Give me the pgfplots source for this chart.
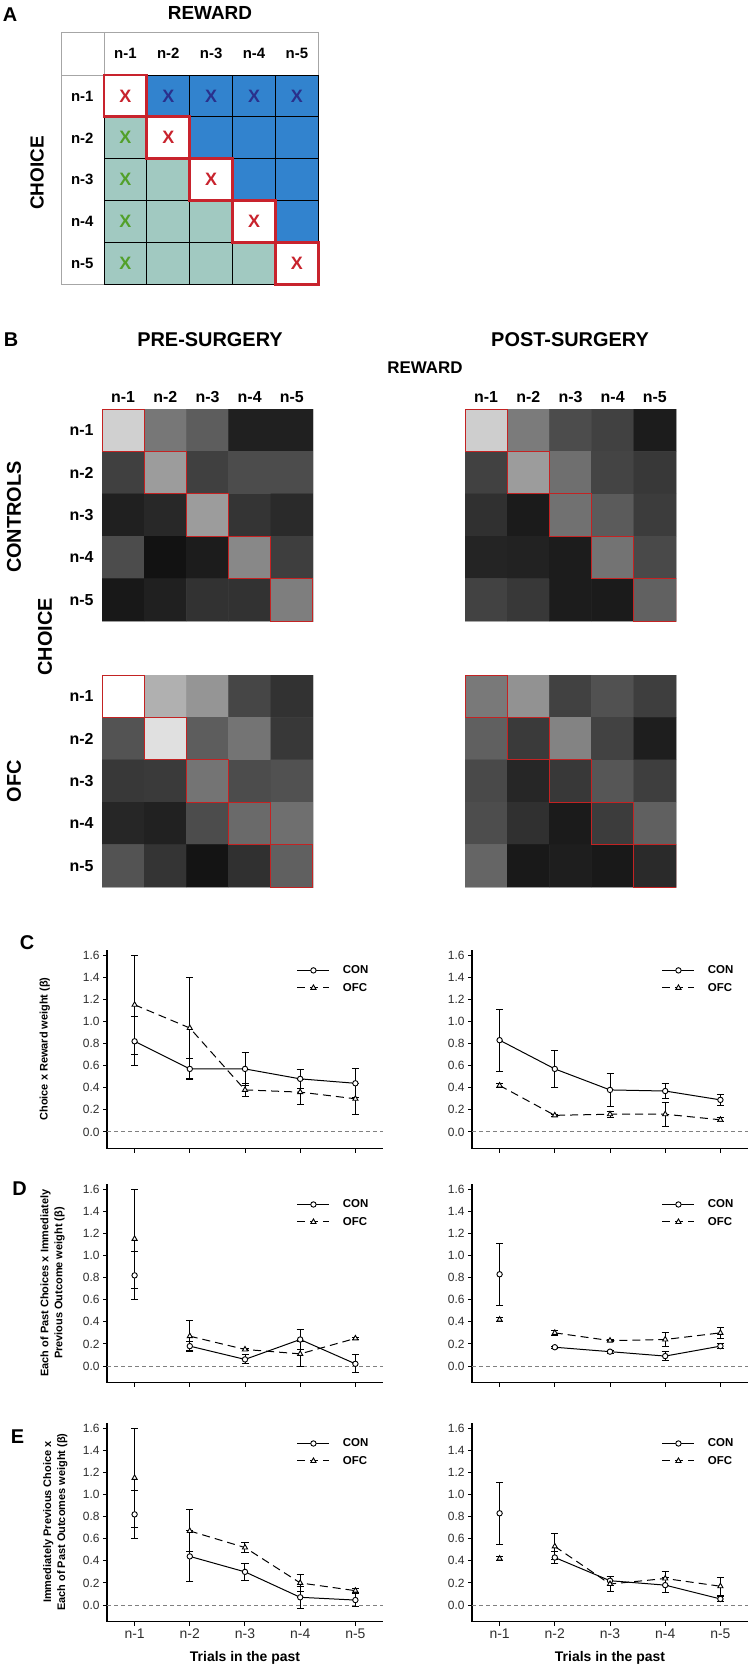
\documentclass[border=0pt]{standalone}
\usepackage{fontspec}
\setmainfont{Liberation Sans}
\usepackage{pgfplots}
\usepackage{pgfplotstable}
\pgfplotsset{compat=1.18}

\definecolor{tealc}{RGB}{161,201,193}
\definecolor{bluec}{RGB}{50,131,206}
\definecolor{xred}{RGB}{200,35,45}
\definecolor{xblue}{RGB}{42,48,140}
\definecolor{xgreen}{RGB}{82,160,42}
\definecolor{bred}{RGB}{195,35,35}
\definecolor{tickgray}{RGB}{45,45,45}

\newcommand\bfs[1]{\bfseries\fontsize{#1}{#1}\selectfont}

% ---------- heat-map data (grey level 0-255) ----------
\pgfplotstableread{
x y c
1 1 207
2 1 118
3 1 92
4 1 32
5 1 32
1 2 64
2 2 155
3 2 64
4 2 75
5 2 75
1 3 32
2 3 40
3 3 155
4 3 52
5 3 42
1 4 75
2 4 18
3 4 28
4 4 135
5 4 62
1 5 24
2 5 32
3 5 50
4 5 50
5 5 125
}\hmPreCon
\pgfplotstableread{
x y c
1 1 205
2 1 122
3 1 75
4 1 65
5 1 28
1 2 65
2 2 155
3 2 110
4 2 68
5 2 56
1 3 48
2 3 27
3 3 112
4 3 90
5 3 60
1 4 36
2 4 34
3 4 28
4 4 114
5 4 72
1 5 66
2 5 56
3 5 28
4 5 27
5 5 96
}\hmPostCon
\pgfplotstableread{
x y c
1 1 255
2 1 175
3 1 148
4 1 70
5 1 50
1 2 82
2 2 222
3 2 92
4 2 115
5 2 56
1 3 56
2 3 58
3 3 115
4 3 75
5 3 80
1 4 38
2 4 33
3 4 75
4 4 105
5 4 110
1 5 82
2 5 52
3 5 20
4 5 48
5 5 95
}\hmPreOfc
\pgfplotstableread{
x y c
1 1 120
2 1 145
3 1 65
4 1 80
5 1 62
1 2 95
2 2 58
3 2 130
4 2 66
5 2 30
1 3 72
2 3 38
3 3 56
4 3 85
5 3 62
1 4 76
2 4 48
3 4 27
4 4 60
5 4 95
1 5 100
2 5 25
3 5 30
4 5 25
5 5 42
}\hmPostOfc
\pgfplotstableread{
x y c
1 1 0
2 1 2
3 1 2
4 1 2
5 1 2
1 2 1
2 2 0
3 2 2
4 2 2
5 2 2
1 3 1
2 3 1
3 3 0
4 3 2
5 3 2
1 4 1
2 4 1
3 4 1
4 4 0
5 4 2
1 5 1
2 5 1
3 5 1
4 5 1
5 5 0
}\schemeA

% ---------- line-plot data: x mean error ----------
\pgfplotstableread{
x y e
1 0.82 0.22
2 0.57 0.095
3 0.57 0.15
4 0.48 0.085
5 0.44 0.13
}\CpreCon
\pgfplotstableread{
x y e
1 1.15 0.45
2 0.94 0.46
3 0.38 0.06
4 0.36 0.11
5 0.30 0.14
}\CpreOfc
\pgfplotstableread{
x y e
1 0.83 0.28
2 0.57 0.17
3 0.38 0.15
4 0.37 0.07
5 0.29 0.05
}\CpostCon
\pgfplotstableread{
x y e
1 0.42 0.02
2 0.15 0.01
3 0.16 0.025
4 0.16 0.11
5 0.11 0.02
}\CpostOfc
\pgfplotstableread{
x y e
1 0.82 0.22
2 0.18 0.04
3 0.06 0.04
4 0.24 0.09
5 0.02 0.08
}\DpreCon
\pgfplotstableread{
x y e
1 1.15 0.45
2 0.27 0.14
3 0.15 0.01
4 0.11 0.11
5 0.25 0.01
}\DpreOfc
\pgfplotstableread{
x y e
1 0.83 0.28
2 0.17 0.01
3 0.13 0.015
4 0.09 0.04
5 0.18 0.02
}\DpostCon
\pgfplotstableread{
x y e
1 0.42 0.02
2 0.30 0.02
3 0.23 0.01
4 0.24 0.065
5 0.30 0.05
}\DpostOfc
\pgfplotstableread{
x y e
1 0.82 0.22
2 0.44 0.23
3 0.30 0.08
4 0.07 0.10
5 0.045 0.06
}\EpreCon
\pgfplotstableread{
x y e
1 1.15 0.45
2 0.67 0.19
3 0.52 0.045
4 0.20 0.08
5 0.13 0.02
}\EpreOfc
\pgfplotstableread{
x y e
1 0.83 0.28
2 0.43 0.05
3 0.22 0.04
4 0.18 0.07
5 0.055 0.02
}\EpostCon
\pgfplotstableread{
x y e
1 0.42 0.02
2 0.53 0.12
3 0.19 0.07
4 0.24 0.06
5 0.17 0.08
}\EpostOfc

\pgfplotsset{
  lineplot/.style={
    scale only axis, width=276bp, height=199bp,
    xmin=0.5, xmax=5.5, ymin=-0.15, ymax=1.65,
    axis lines*=left,
    axis line style={black, line width=1.1bp},
    tick align=outside, major tick length=4bp,
    tick style={black, line width=1bp},
    xtick={1,2,3,4,5}, xticklabels={},
    ytick={0,0.2,0.4,0.6,0.8,1.0,1.2,1.4,1.6},
    /pgf/number format/assume math mode=true,
    yticklabel style={/pgf/number format/fixed, /pgf/number format/fixed zerofill, /pgf/number format/precision=1, font=\fontsize{12}{14}\selectfont, text=tickgray},
    xticklabel style={font=\fontsize{14}{16}\selectfont, text=tickgray},
    legend style={draw=none, fill=none, at={(0.955,0.93)}, anchor=north east, font=\bfs{11.5}, row sep=4bp, inner sep=0pt, /tikz/every odd column/.append style={column sep=11bp}},
    legend cell align=left,
    legend image code/.code={\draw[mark repeat=2,mark phase=2,##1] plot coordinates {(0bp,0bp) (16bp,0bp) (32bp,0bp)};},
    ylabel style={font=\bfseries\fontsize{11}{14}\selectfont, align=center, anchor=center},
    xlabel style={font=\bfs{14}, at={(axis description cs:0.5,0)}, anchor=center, yshift=-36bp},
  },
  con/.style={black, solid, line width=1bp, mark=*, mark size=2.7bp,
    mark options={solid, fill=white, draw=black, line width=0.9bp},
    error bars/y dir=both, error bars/y explicit,
    error bars/error bar style={solid, black, line width=1bp},
    error bars/error mark options={rotate=90, mark size=3.5bp, solid, black, line width=1bp}},
  ofc/.style={black, dash pattern=on 8bp off 5bp, line width=1bp, mark=triangle*, mark size=3bp,
    mark options={solid, fill=white, draw=black, line width=0.9bp},
    error bars/y dir=both, error bars/y explicit,
    error bars/error bar style={solid, black, line width=1bp},
    error bars/error mark options={rotate=90, mark size=3.5bp, solid, black, line width=1bp}},
  zeroline/.style={forget plot, color=gray, dash pattern=on 4bp off 3bp, line width=1bp},
  heat/.style={
    scale only axis, width=211bp, height=212bp,
    xmin=0.5, xmax=5.5, ymin=0.5, ymax=5.5, y dir=reverse,
    colormap/blackwhite, point meta min=0, point meta max=255,
    axis line style={gray!45, line width=0.5bp},
    xtick={1,2,3,4,5}, ytick={1,2,3,4,5}, major tick length=0pt,
    xticklabels={}, yticklabels={},
    ticklabel style={font=\bfs{16}},
  },
}

\newcommand\diagboxes[2]{%
  \foreach \a/\b in {0.5/1.5,1.5/2.5,2.5/3.5,3.5/4.5,4.5/5.5}{%
    \edef\tmp{\noexpand\draw[#1, line width=#2] (axis cs:\a,\a) rectangle (axis cs:\b,\b);}\tmp}}

\begin{document}
\begin{tikzpicture}
\useasboundingbox (0,0) rectangle (750bp,-1666bp);

% ================= Panel A =================
\node[font=\bfs{20}] at (10bp,-15bp) {A};
\node[font=\bfs{19}] at (210bp,-13bp) {REWARD};
\node[font=\bfs{19}, rotate=90] at (37bp,-173bp) {CHOICE};
\draw[gray!70, line width=0.8bp] (61bp,-32bp) rectangle (318.3bp,-284.3bp);
\draw[gray!70, line width=0.8bp] (104bp,-32bp) -- (104bp,-284.3bp);
\draw[gray!70, line width=0.8bp] (61bp,-75bp) -- (318.3bp,-75bp);
\begin{axis}[scale only axis, width=214.3bp, height=209.3bp,
  at={(104bp,-284.3bp)}, anchor=south west,
  xmin=0.5, xmax=5.5, ymin=0.5, ymax=5.5, y dir=reverse,
  colormap={panelA}{rgb255=(255,255,255) rgb255=(161,201,193) rgb255=(50,131,206)},
  point meta min=0, point meta max=2,
  axis line style={draw=none}, major tick length=0pt,
  xtick={1,2,3,4,5}, ytick={1,2,3,4,5},
  xticklabels={n-1,n-2,n-3,n-4,n-5}, yticklabels={n-1,n-2,n-3,n-4,n-5},
  xticklabel pos=right,
  xticklabel style={anchor=center, yshift=21.5bp, font=\bfs{15}},
  yticklabel style={anchor=center, xshift=-21.7bp, font=\bfs{15}},
  clip=false]
\addplot[matrix plot*, mesh/cols=5, point meta=explicit] table[x=x, y=y, meta=c] {\schemeA};
\foreach \a in {0.5,1.5,2.5,3.5,4.5,5.5}{%
  \edef\tmp{\noexpand\draw[black, line width=0.8bp] (axis cs:\a,0.5) -- (axis cs:\a,5.5);
            \noexpand\draw[black, line width=0.8bp] (axis cs:0.5,\a) -- (axis cs:5.5,\a);}\tmp}
\diagboxes{xred}{2.8bp}
\node[text=xred, font=\bfs{18}] at (axis cs:1,1) {X};
\node[text=xred, font=\bfs{18}] at (axis cs:2,2) {X};
\node[text=xred, font=\bfs{18}] at (axis cs:3,3) {X};
\node[text=xred, font=\bfs{18}] at (axis cs:4,4) {X};
\node[text=xred, font=\bfs{18}] at (axis cs:5,5) {X};
\node[text=xblue, font=\bfs{18}] at (axis cs:2,1) {X};
\node[text=xblue, font=\bfs{18}] at (axis cs:3,1) {X};
\node[text=xblue, font=\bfs{18}] at (axis cs:4,1) {X};
\node[text=xblue, font=\bfs{18}] at (axis cs:5,1) {X};
\node[text=xgreen, font=\bfs{18}] at (axis cs:1,2) {X};
\node[text=xgreen, font=\bfs{18}] at (axis cs:1,3) {X};
\node[text=xgreen, font=\bfs{18}] at (axis cs:1,4) {X};
\node[text=xgreen, font=\bfs{18}] at (axis cs:1,5) {X};
\end{axis}

% ================= Panel B =================
\node[font=\bfs{20}] at (11bp,-340bp) {B};
\node[font=\bfs{20}] at (210bp,-340bp) {PRE-SURGERY};
\node[font=\bfs{20}] at (570bp,-340bp) {POST-SURGERY};
\node[font=\bfs{17}] at (425bp,-368bp) {REWARD};
\node[font=\bfs{20}, rotate=90] at (14bp,-517bp) {CONTROLS};
\node[font=\bfs{20}, rotate=90] at (14bp,-781bp) {OFC};
\node[font=\bfs{20}, rotate=90] at (45bp,-637bp) {CHOICE};

\begin{axis}[heat, at={(102bp,-621bp)}, anchor=south west,
  xticklabel pos=right, xticklabels={n-1,n-2,n-3,n-4,n-5}, xticklabel style={yshift=3bp},
  yticklabels={n-1,n-2,n-3,n-4,n-5}, yticklabel style={xshift=-5bp}]
\addplot[matrix plot*, mesh/cols=5, point meta=explicit] table[x=x, y=y, meta=c] {\hmPreCon};
\diagboxes{bred}{1bp}
\end{axis}
\begin{axis}[heat, at={(465bp,-621bp)}, anchor=south west,
  xticklabel pos=right, xticklabels={n-1,n-2,n-3,n-4,n-5}, xticklabel style={yshift=3bp}]
\addplot[matrix plot*, mesh/cols=5, point meta=explicit] table[x=x, y=y, meta=c] {\hmPostCon};
\diagboxes{bred}{1bp}
\end{axis}
\begin{axis}[heat, at={(102bp,-887bp)}, anchor=south west,
  yticklabels={n-1,n-2,n-3,n-4,n-5}, yticklabel style={xshift=-5bp}]
\addplot[matrix plot*, mesh/cols=5, point meta=explicit] table[x=x, y=y, meta=c] {\hmPreOfc};
\diagboxes{bred}{1bp}
\end{axis}
\begin{axis}[heat, at={(465bp,-887bp)}, anchor=south west]
\addplot[matrix plot*, mesh/cols=5, point meta=explicit] table[x=x, y=y, meta=c] {\hmPostOfc};
\diagboxes{bred}{1bp}
\end{axis}

% ================= Panel C =================
\node[font=\bfs{20}] at (27bp,-943bp) {C};
\begin{axis}[lineplot, at={(107bp,-1148.5bp)}, anchor=south west,
  ylabel={Choice x Reward weight (β)},
  ylabel style={at={(axis description cs:-0.225,0.5)}}]
\addplot[zeroline] coordinates {(0.5,0) (5.5,0)};
\addplot[con] table[x=x, y=y, y error=e] {\CpreCon};
\addplot[ofc] table[x=x, y=y, y error=e] {\CpreOfc};
\legend{CON,OFC}
\end{axis}
\begin{axis}[lineplot, at={(472bp,-1148.5bp)}, anchor=south west]
\addplot[zeroline] coordinates {(0.5,0) (5.5,0)};
\addplot[con] table[x=x, y=y, y error=e] {\CpostCon};
\addplot[ofc] table[x=x, y=y, y error=e] {\CpostOfc};
\legend{CON,OFC}
\end{axis}

% ================= Panel D =================
\node[font=\bfs{20}] at (19.5bp,-1189bp) {D};
\begin{axis}[lineplot, at={(107bp,-1382.6bp)}, anchor=south west,
  ylabel={Each of Past Choices x Immediately\\Previous Outcome weight (β)},
  ylabel style={at={(axis description cs:-0.197,0.5)}}]
\addplot[zeroline] coordinates {(0.5,0) (5.5,0)};
\addplot[con, restrict x to domain=1.5:5.5] table[x=x, y=y, y error=e] {\DpreCon};
\addplot[ofc, restrict x to domain=1.5:5.5] table[x=x, y=y, y error=e] {\DpreOfc};
\addplot[con, only marks, forget plot, restrict x to domain=0.5:1.5] table[x=x, y=y, y error=e] {\DpreCon};
\addplot[ofc, only marks, forget plot, restrict x to domain=0.5:1.5] table[x=x, y=y, y error=e] {\DpreOfc};
\legend{CON,OFC}
\end{axis}
\begin{axis}[lineplot, at={(472bp,-1382.6bp)}, anchor=south west]
\addplot[zeroline] coordinates {(0.5,0) (5.5,0)};
\addplot[con, restrict x to domain=1.5:5.5] table[x=x, y=y, y error=e] {\DpostCon};
\addplot[ofc, restrict x to domain=1.5:5.5] table[x=x, y=y, y error=e] {\DpostOfc};
\addplot[con, only marks, forget plot, restrict x to domain=0.5:1.5] table[x=x, y=y, y error=e] {\DpostCon};
\addplot[ofc, only marks, forget plot, restrict x to domain=0.5:1.5] table[x=x, y=y, y error=e] {\DpostOfc};
\legend{CON,OFC}
\end{axis}

% ================= Panel E =================
\node[font=\bfs{20}] at (17.5bp,-1437bp) {E};
\begin{axis}[lineplot, at={(107bp,-1621.6bp)}, anchor=south west,
  xticklabels={n-1,n-2,n-3,n-4,n-5}, xlabel={Trials in the past},
  ylabel={Immediately Previous Choice x\\Each of Past Outcomes weight (β)},
  ylabel style={at={(axis description cs:-0.187,0.5)}}]
\addplot[zeroline] coordinates {(0.5,0) (5.5,0)};
\addplot[con, restrict x to domain=1.5:5.5] table[x=x, y=y, y error=e] {\EpreCon};
\addplot[ofc, restrict x to domain=1.5:5.5] table[x=x, y=y, y error=e] {\EpreOfc};
\addplot[con, only marks, forget plot, restrict x to domain=0.5:1.5] table[x=x, y=y, y error=e] {\EpreCon};
\addplot[ofc, only marks, forget plot, restrict x to domain=0.5:1.5] table[x=x, y=y, y error=e] {\EpreOfc};
\legend{CON,OFC}
\end{axis}
\begin{axis}[lineplot, at={(472bp,-1621.6bp)}, anchor=south west,
  xticklabels={n-1,n-2,n-3,n-4,n-5}, xlabel={Trials in the past}]
\addplot[zeroline] coordinates {(0.5,0) (5.5,0)};
\addplot[con, restrict x to domain=1.5:5.5] table[x=x, y=y, y error=e] {\EpostCon};
\addplot[ofc, restrict x to domain=1.5:5.5] table[x=x, y=y, y error=e] {\EpostOfc};
\addplot[con, only marks, forget plot, restrict x to domain=0.5:1.5] table[x=x, y=y, y error=e] {\EpostCon};
\addplot[ofc, only marks, forget plot, restrict x to domain=0.5:1.5] table[x=x, y=y, y error=e] {\EpostOfc};
\legend{CON,OFC}
\end{axis}
\end{tikzpicture}
\end{document}
